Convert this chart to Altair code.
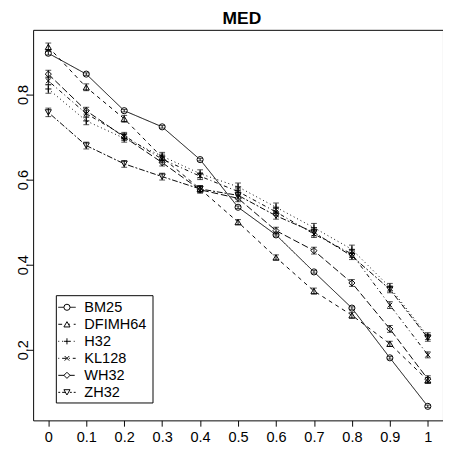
import altair as alt
import pandas as pd

X = [0.0, 0.1, 0.2, 0.3, 0.4, 0.5, 0.6, 0.7, 0.8, 0.9, 1.0]
SERIES = ["BM25", "DFIMH64", "H32", "KL128", "WH32", "ZH32"]

BM25 = [0.897, 0.848, 0.762, 0.724, 0.647, 0.535, 0.470, 0.383, 0.298, 0.181, 0.067]
DFIMH64 = [0.912, 0.817, 0.743, 0.652, 0.578, 0.500, 0.417, 0.338, 0.281, 0.214, 0.128]
H32 = [0.813, 0.738, 0.697, 0.655, 0.614, 0.583, 0.535, 0.487, 0.436, 0.347, 0.232]
KL128 = [0.832, 0.755, 0.703, 0.648, 0.608, 0.572, 0.524, 0.472, 0.425, 0.305, 0.188]
WH32 = [0.848, 0.762, 0.700, 0.640, 0.576, 0.556, 0.480, 0.433, 0.357, 0.249, 0.131]
ZH32 = [0.758, 0.680, 0.637, 0.607, 0.578, 0.563, 0.515, 0.476, 0.420, 0.342, 0.228]

ERR_BM25 = [0.004, 0.003, 0.003, 0.003, 0.003, 0.003, 0.003, 0.003, 0.003, 0.003, 0.003]
ERR_DFIMH64 = [0.009, 0.008, 0.008, 0.008, 0.007, 0.006, 0.006, 0.007, 0.007, 0.006, 0.007]
ERR_H32 = [0.010, 0.009, 0.009, 0.009, 0.009, 0.009, 0.010, 0.010, 0.010, 0.009, 0.008]
ERR_KL128 = [0.009, 0.008, 0.008, 0.008, 0.008, 0.008, 0.008, 0.008, 0.008, 0.008, 0.007]
ERR_WH32 = [0.009, 0.008, 0.008, 0.008, 0.008, 0.008, 0.008, 0.008, 0.008, 0.008, 0.008]
ERR_ZH32 = [0.010, 0.008, 0.008, 0.008, 0.008, 0.008, 0.008, 0.008, 0.008, 0.008, 0.008]

VALUES = [BM25, DFIMH64, H32, KL128, WH32, ZH32]
ERRORS = [ERR_BM25, ERR_DFIMH64, ERR_H32, ERR_KL128, ERR_WH32, ERR_ZH32]

X_TICKS = [0, 0.1, 0.2, 0.3, 0.4, 0.5, 0.6, 0.7, 0.8, 0.9, 1]
Y_TICKS = [0.2, 0.4, 0.6, 0.8]

DASHES = [[1, 0], [4, 4], [1, 3], [1, 3, 4, 3], [7, 3], [2, 2, 6, 2]]
SHAPES = [
    "circle",
    "triangle-up",
    "M-1,0L1,0M0,-1L0,1",
    "M-0.75,-0.75L0.75,0.75M-0.75,0.75L0.75,-0.75",
    "diamond",
    "triangle-down",
]

rows = []
for name, vals, errs in zip(SERIES, VALUES, ERRORS):
    for xv, yv, ev in zip(X, vals, errs):
        rows.append({"x": xv, "y": yv, "lo": yv - ev, "hi": yv + ev, "series": name})
df = pd.DataFrame(rows)
leg_df = pd.DataFrame({"series": SERIES})
box_df = pd.DataFrame({"k": [0]})

FONT = "Liberation Sans"

xscale = alt.Scale(domain=[-0.04, 1.04], nice=False, zero=False)
yscale = alt.Scale(domain=[0.034, 0.952], nice=False, zero=False)
dash_scale = alt.Scale(domain=SERIES, range=DASHES)
shape_scale = alt.Scale(domain=SERIES, range=SHAPES)

xenc = alt.X("x:Q", scale=xscale,
             axis=alt.Axis(values=X_TICKS, format="~g", title=None, labelPadding=4,
                           labelFlush=False, labelOverlap=False))
yenc = alt.Y("y:Q", scale=yscale,
             axis=alt.Axis(values=Y_TICKS, title=None, labelAngle=270, labelAlign="center",
                           labelBaseline="alphabetic", labelPadding=0, labelOverlap=False))

base = alt.Chart(df)

lines = base.mark_line(color="black", strokeWidth=1).encode(
    x=xenc, y=yenc,
    strokeDash=alt.StrokeDash("series:N", scale=dash_scale, legend=None),
    order="x:Q",
)
points_bg = base.mark_point(filled=True, color="white", size=40, opacity=1).encode(
    x="x:Q", y="y:Q",
    shape=alt.Shape("series:N", scale=shape_scale, legend=None),
)
rules = base.mark_rule(color="black", strokeWidth=1).encode(
    x="x:Q", y="lo:Q", y2="hi:Q"
)
cap_lo = base.mark_tick(color="black", orient="horizontal", size=6, thickness=1).encode(
    x="x:Q", y="lo:Q"
)
cap_hi = base.mark_tick(color="black", orient="horizontal", size=6, thickness=1).encode(
    x="x:Q", y="hi:Q"
)
points = base.mark_point(color="black", strokeWidth=1, size=40, opacity=1).encode(
    x="x:Q", y="y:Q",
    shape=alt.Shape("series:N", scale=shape_scale, legend=None),
)

data_layer = alt.layer(lines, points_bg, rules, cap_lo, cap_hi, points)

# legend (drawn as its own layer, rows placed by a point scale)
leg_y = alt.Y("series:N", scale=alt.Scale(type="point", domain=SERIES, range=[287, 375],
                                          padding=0), axis=None)
leg = alt.Chart(leg_df)
leg_box = alt.Chart(box_df).mark_rect(fill="white", stroke="black", strokeWidth=1).encode(
    x=alt.value(24), x2=alt.value(124), y=alt.value(275), y2=alt.value(386)
)
leg_line = leg.mark_rule(color="black", strokeWidth=1).encode(
    x=alt.value(26), x2=alt.value(44), y=leg_y,
    strokeDash=alt.StrokeDash("series:N", scale=dash_scale, legend=None),
)
leg_pt_bg = leg.mark_point(filled=True, color="white", size=40, opacity=1).encode(
    x=alt.value(35), y=leg_y,
    shape=alt.Shape("series:N", scale=shape_scale, legend=None),
)
leg_pt = leg.mark_point(color="black", strokeWidth=1, size=40, opacity=1).encode(
    x=alt.value(35), y=leg_y,
    shape=alt.Shape("series:N", scale=shape_scale, legend=None),
)
leg_text = leg.mark_text(align="left", baseline="middle", font=FONT, fontSize=15,
                         color="black").encode(
    x=alt.value(53), y=leg_y, text="series:N"
)
legend_layer = alt.layer(leg_box, leg_line, leg_pt_bg, leg_pt, leg_text)

chart = alt.layer(data_layer, legend_layer).resolve_scale(y="independent").properties(
    width=424,
    height=404,
    title=alt.Title("MED", font=FONT, fontSize=18, fontWeight="bold", anchor="middle",
                    offset=2, color="black", dx=4),
    autosize="none",
    padding={"left": 26, "top": 15, "right": 0, "bottom": 22},
    background="white",
).configure_view(
    stroke="black", strokeWidth=1
).configure_axis(
    domain=False, grid=False, tickColor="black", tickSize=6, tickWidth=1,
    labelFont=FONT, labelFontSize=15, labelColor="black",
)

chart.save("out.html", embed_options={"renderer": "svg", "actions": False})
